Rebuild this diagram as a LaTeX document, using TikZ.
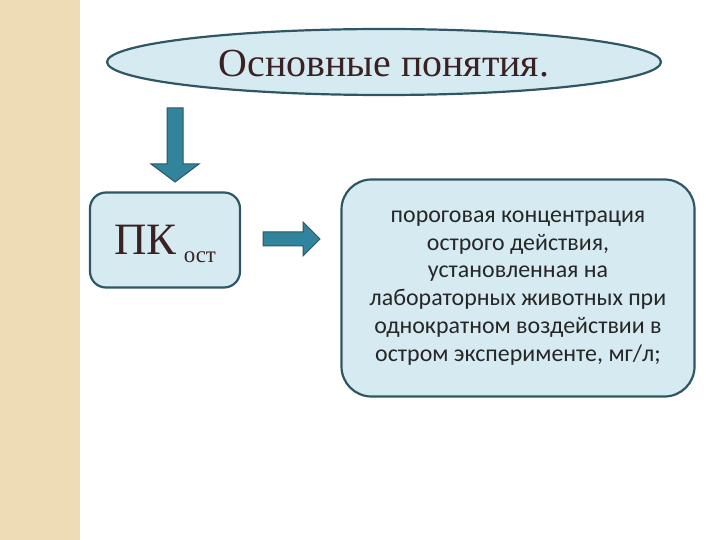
\documentclass[tikz,border=0pt]{standalone}
\usepackage{fontspec}
\setmainfont{Liberation Serif}
\newfontfamily\bodyfont{Carlito}
\usetikzlibrary{shapes.geometric}

\definecolor{pkfill}{HTML}{D6EBF1}
\definecolor{pkline}{HTML}{2F5663}
\definecolor{pkarrow}{HTML}{31849B}
\definecolor{pkside}{HTML}{EEDDB4}
\definecolor{pktext}{HTML}{3B2121}

\tikzset{PKbox/.style={draw=pkline,fill=pkfill,line width=2.2bp,rounded corners=#1},
         PKoval/.style={ellipse,draw=pkline,fill=pkfill,line width=2.2bp},
         PKarr/.style={draw=pkline,fill=pkarrow,line width=1bp,line join=miter}}

\begin{document}
\begin{tikzpicture}[x=1bp,y=-1bp]
  \useasboundingbox (0,0) rectangle (720,540);
  % side strip
  \fill[pkside] (0,0) rectangle (80,540);
  % title
  \node[PKoval,minimum width=554bp,minimum height=66bp,text=pktext,
        font=\fontsize{40}{40}\selectfont] (title) at (384,62)
    {\raisebox{-15bp}[0pt][0pt]{Основные понятия.}};
  % term and its meaning
  \node[PKbox=16bp,minimum width=150bp,minimum height=95bp,text=pktext] (term) at (165,240)
    {\raisebox{-15bp}[0pt][0pt]{\fontsize{45}{45}\selectfont ПК\,\raisebox{-8bp}{\fontsize{23}{23}\selectfont ост}}};
  \node[PKbox=30bp,minimum width=353bp,minimum height=217bp,align=center,
        font=\bodyfont\fontsize{24}{28}\selectfont,text=black!85] (def) at (518,288)
    {пороговая концентрация\\острого действия,\\установленная на\\лабораторных животных при\\однократном воздействии в\\остром эксперименте, мг/л;};
  % block arrows
  \coordinate (d0) at (175,108);
  \draw[PKarr] (d0) ++(-8,0) -- ++(16,0) -- ++(0,56) -- ++(16,0) -- ++(-24,18)
    -- ++(-24,-18) -- ++(16,0) -- cycle;
  \coordinate (r0) at (263,239);
  \draw[PKarr] (r0) ++(0,-7) -- ++(40,0) -- ++(0,-10) -- ++(17,17) -- ++(-17,17)
    -- ++(0,-10) -- ++(-40,0) -- cycle;
\end{tikzpicture}
\end{document}
